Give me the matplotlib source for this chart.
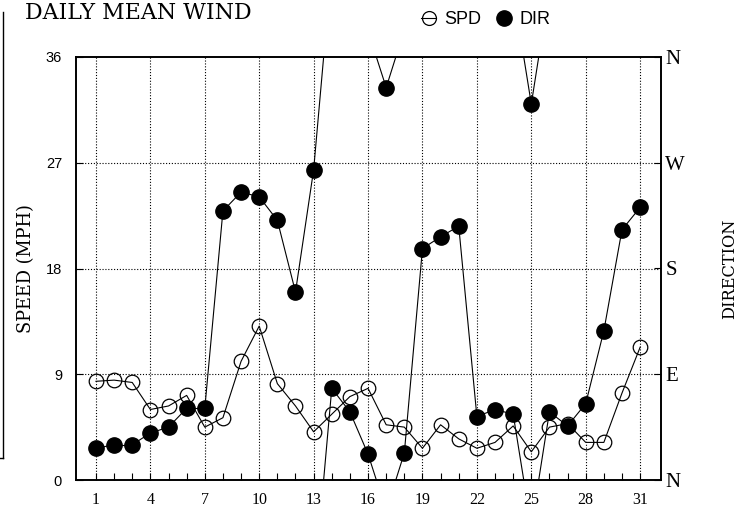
import numpy as np
import matplotlib.pyplot as plt
from matplotlib.lines import Line2D

# Datos del mes
dias = list(range(1, 32))
velocidad = [8.4, 8.5, 8.3, 6.0, 6.3, 7.2, 4.5, 5.3, 10.1, 13.1, 8.2, 6.3, 4.1, 5.6, 7.1,
             7.8, 4.7, 4.5, 2.7, 4.7, 3.5, 2.7, 3.2, 4.6, 2.4, 4.5, 4.8, 3.2, 3.2, 7.4, 11.3]
direccion = [27, 30, 30, 40, 45, 61, 61, 229, 245, 241, 221, 160, 264, 78, 58,
             22, 334, 23, 197, 207, 216, 54, 60, 56, 320, 58, 46, 65, 127, 213, 232]

ticks_x = list(range(1, 32, 3))
ticks_vel = [0, 9, 18, 27, 36]
ticks_dir = [0, 90, 180, 270, 360]
etiquetas_dir = ['N', 'E', 'S', 'W', 'N']

fig = plt.figure(figsize=(7.39, 5.24), dpi=100)
ax = fig.add_axes([76 / 739, 44 / 524, 585 / 739, 423 / 524])
ax2 = ax.twinx()

ax.set_xlim(-0.1, 32.15)
ax.set_ylim(0, 36)
ax2.set_ylim(0, 360)

# Rejilla punteada
for x in ticks_x:
    ax.axvline(x, color='black', lw=0.8, ls=(0, (1, 1.6)), zorder=1)
for y in ticks_vel[1:-1]:
    ax.axhline(y, color='black', lw=0.8, ls=(0, (1, 1.6)), zorder=1)

# Velocidad
ax.plot(dias, velocidad, color='black', lw=0.8, marker='o', ms=10.5,
        mfc='none', mec='black', mew=0.9, zorder=3)

# Dirección: segmentos con salto por el norte
for i in range(len(dias) - 1):
    x1, x2 = dias[i], dias[i + 1]
    d1, d2 = direccion[i], direccion[i + 1]
    if abs(d2 - d1) <= 180:
        ax2.plot([x1, x2], [d1, d2], color='black', lw=0.8, zorder=2)
    elif d2 < d1:
        ax2.plot([x1, x2], [d1, d2 + 360], color='black', lw=0.8, zorder=2)
        ax2.plot([x1, x2], [d1 - 360, d2], color='black', lw=0.8, zorder=2)
    else:
        ax2.plot([x1, x2], [d1, d2 - 360], color='black', lw=0.8, zorder=2)
        ax2.plot([x1, x2], [d1 + 360, d2], color='black', lw=0.8, zorder=2)
ax2.plot(dias, direccion, ls='none', marker='o', ms=11, mfc='black', mec='black', zorder=4)

# Ejes
ax.set_xticks(ticks_x)
ax.set_xticks(dias, minor=True)
ax.set_xticklabels([str(t) for t in ticks_x], family='Liberation Serif', fontsize=11.5)
ax.tick_params(axis='x', which='both', direction='in', length=5, width=0.8, pad=9, top=False)
ax.set_yticks(ticks_vel)
ax.set_yticklabels([str(t) for t in ticks_vel], family='Liberation Sans', fontsize=10.5)
ax.tick_params(axis='y', direction='in', length=5, width=0.8, pad=10)
ax2.set_yticks(ticks_dir)
ax2.set_yticklabels(etiquetas_dir, family='Liberation Serif', fontsize=15)
ax2.tick_params(axis='y', direction='in', length=5, width=0.8, pad=3)
for a in (ax, ax2):
    for s in a.spines.values():
        s.set_linewidth(1.2)

ax.set_ylabel('SPEED (MPH)', family='DejaVu Serif', fontsize=12.8, labelpad=8)
ax2.set_ylabel('DIRECTION', family='DejaVu Serif', fontsize=11.7, labelpad=26)

fig.text(25 / 739, 1 - 13 / 524, 'DAILY MEAN WIND', family='DejaVu Serif',
         fontsize=15.8, va='center', ha='left')

# Leyenda
h_vel = Line2D([], [], color='black', lw=0.8, marker='o', ms=10, mfc='none', mec='black', mew=0.9)
h_dir = Line2D([], [], ls='none', marker='o', ms=11, mfc='black', mec='black')
fig.legend([h_vel, h_dir], ['SPD', 'DIR'], loc='center', bbox_to_anchor=(486 / 739, 1 - 20 / 524),
           ncol=2, frameon=False, handlelength=0.8, handletextpad=0.45, columnspacing=0.9,
           prop={'family': 'Liberation Sans', 'size': 13})

# Marco lateral izquierdo
fig.add_artist(Line2D([3 / 739, 3 / 739], [1 - 12 / 524, 1 - 458 / 524], color='black', lw=1))
fig.add_artist(Line2D([0, 3 / 739], [1 - 458 / 524, 1 - 458 / 524], color='black', lw=1))

fig.savefig('out.png', dpi=100)
